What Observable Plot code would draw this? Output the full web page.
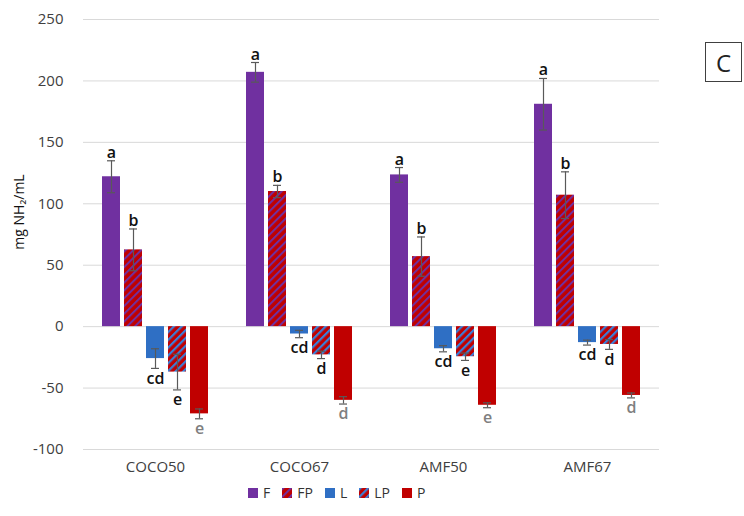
<!DOCTYPE html>
<html>
<head>
<meta charset="utf-8">
<script src="https://cdn.jsdelivr.net/npm/d3@7"></script>
<script src="https://cdn.jsdelivr.net/npm/@observablehq/plot@0.6"></script>
<style>
  body { margin: 0; background: #fff; font-family: "Open Sans", sans-serif; }
  #wrap { position: relative; width: 744px; height: 516px; }
  #legend { position: absolute; left: 248px; top: 483px; display: flex; align-items: center; font-size: 14px; color: #333; }
  #legend .item { display: flex; align-items: center; margin-right: 12px; }
  #legend svg { margin-right: 5px; }
  #tag { position: absolute; left: 705px; top: 42px; width: 35px; height: 38px; border: 1.5px solid #404040;
         font-size: 24px; display: flex; align-items: center; justify-content: center; color: #222; }
  #ylabel { position: absolute; left: 18px; top: 212px; transform: translate(-50%, -50%) rotate(-90deg);
            white-space: nowrap; font-size: 14px; color: #111; }
</style>
</head>
<body>
<div id="wrap">
  <svg width="0" height="0" style="position:absolute">
    <defs>
      <pattern id="hFP" patternUnits="userSpaceOnUse" width="5.5" height="5.5" patternTransform="rotate(45)">
        <rect width="5.5" height="5.5" fill="#c00000"></rect>
        <rect width="2" height="5.5" fill="#7030a0"></rect>
      </pattern>
      <pattern id="hLP" patternUnits="userSpaceOnUse" width="5.5" height="5.5" patternTransform="rotate(45)">
        <rect width="5.5" height="5.5" fill="#c00000"></rect>
        <rect width="2.2" height="5.5" fill="#3a7fd8"></rect>
      </pattern>
    </defs>
  </svg>
  <div id="chart"></div>
  <div id="ylabel">mg NH₂/mL</div>
  <div id="legend"></div>
  <div id="tag">C</div>
</div>
<script>
const categories = ["COCO50", "COCO67", "AMF50", "AMF67"];
const series = ["F", "FP", "L", "LP", "P"];
const seriesColors = ["#7030a0", "url(#hFP)", "#2f6fc4", "url(#hLP)", "#c00000"];
const yTicks = [-100, -50, 0, 50, 100, 150, 200, 250];

const valuesF  = [122, 207, 123.5, 181];
const valuesFP = [62.5, 110, 57, 107];
const valuesL  = [-26, -6, -18, -13];
const valuesLP = [-37, -23, -24.5, -14.5];
const valuesP  = [-71, -60, -64, -56];

const errF  = [13, 8, 6, 21];
const errFP = [17, 5, 16, 19];
const errL  = [8, 3, 2.5, 2];
const errLP = [14.5, 3, 3, 4];
const errP  = [4, 3, 2, 2];

const lettersF  = ["a", "a", "a", "a"];
const lettersFP = ["b", "b", "b", "b"];
const lettersL  = ["cd", "cd", "cd", "cd"];
const lettersLP = ["e", "d", "e", "d"];
const lettersP  = ["e", "d", "e", "d"];

const seriesValues = [valuesF, valuesFP, valuesL, valuesLP, valuesP];
const seriesErr = [errF, errFP, errL, errLP, errP];
const seriesLetters = [lettersF, lettersFP, lettersL, lettersLP, lettersP];

const rows = [];
categories.forEach((c, i) => {
  series.forEach((s, j) => {
    const v = seriesValues[j][i], e = seriesErr[j][i];
    rows.push({category: c, series: s, value: v, lo: v - e, hi: v + e, letter: seriesLetters[j][i]});
  });
});

const pos = rows.filter(d => d.value >= 0);
const neg = rows.filter(d => d.value < 0);

const font = "Open Sans, sans-serif";

const chart = Plot.plot({
  width: 744,
  height: 480,
  marginLeft: 82,
  marginRight: 84,
  marginTop: 19,
  marginBottom: 31,
  style: {fontFamily: font, fontSize: "15px", color: "#404040", background: "transparent"},
  fx: {domain: categories, padding: 0, label: null, tickSize: 0, tickPadding: 12, axis: "bottom"},
  x: {domain: series, paddingInner: 0.2, paddingOuter: 0.87, axis: null},
  y: {domain: [-100, 250], ticks: yTicks, tickSize: 0, tickPadding: 20, label: null, tickFormat: d => d},
  color: {domain: series, range: seriesColors},
  marks: [
    Plot.ruleY(yTicks, {stroke: "#d9d9d9", strokeWidth: 1}),
    Plot.barY(rows, {fx: "category", x: "series", y1: 0, y2: "value", fill: "series"}),
    Plot.ruleX(rows, {fx: "category", x: "series", y1: "lo", y2: "hi", stroke: "#595959", strokeWidth: 1.2}),
    Plot.tickY(rows, {fx: "category", x: "series", y: "lo", stroke: "#595959", strokeWidth: 1.2, insetLeft: 5, insetRight: 5}),
    Plot.tickY(rows, {fx: "category", x: "series", y: "hi", stroke: "#595959", strokeWidth: 1.2, insetLeft: 5, insetRight: 5}),
    Plot.text(pos, {fx: "category", x: "series", y: "hi", text: "letter", lineAnchor: "bottom", dy: -3, fill: "#111", fontSize: 16, fontWeight: 600}),
    Plot.text(neg.filter(d => d.series !== "P"), {fx: "category", x: "series", y: "lo", text: "letter", lineAnchor: "top", dy: 4, fill: "#111", fontSize: 16, fontWeight: 600}),
    Plot.text(neg.filter(d => d.series === "P"), {fx: "category", x: "series", y: "lo", text: "letter", lineAnchor: "top", dy: 4, fill: "#7f7f7f", fontSize: 16, fontWeight: 600})
  ]
});
document.getElementById("chart").appendChild(chart);

// legend
const legend = d3.select("#legend");
series.forEach((s, j) => {
  const item = legend.append("div").attr("class", "item");
  const sw = item.append("svg").attr("width", 10).attr("height", 10);
  sw.append("rect").attr("width", 10).attr("height", 10).attr("fill", seriesColors[j]);
  item.append("span").text(s);
});
</script>
</body>
</html>
